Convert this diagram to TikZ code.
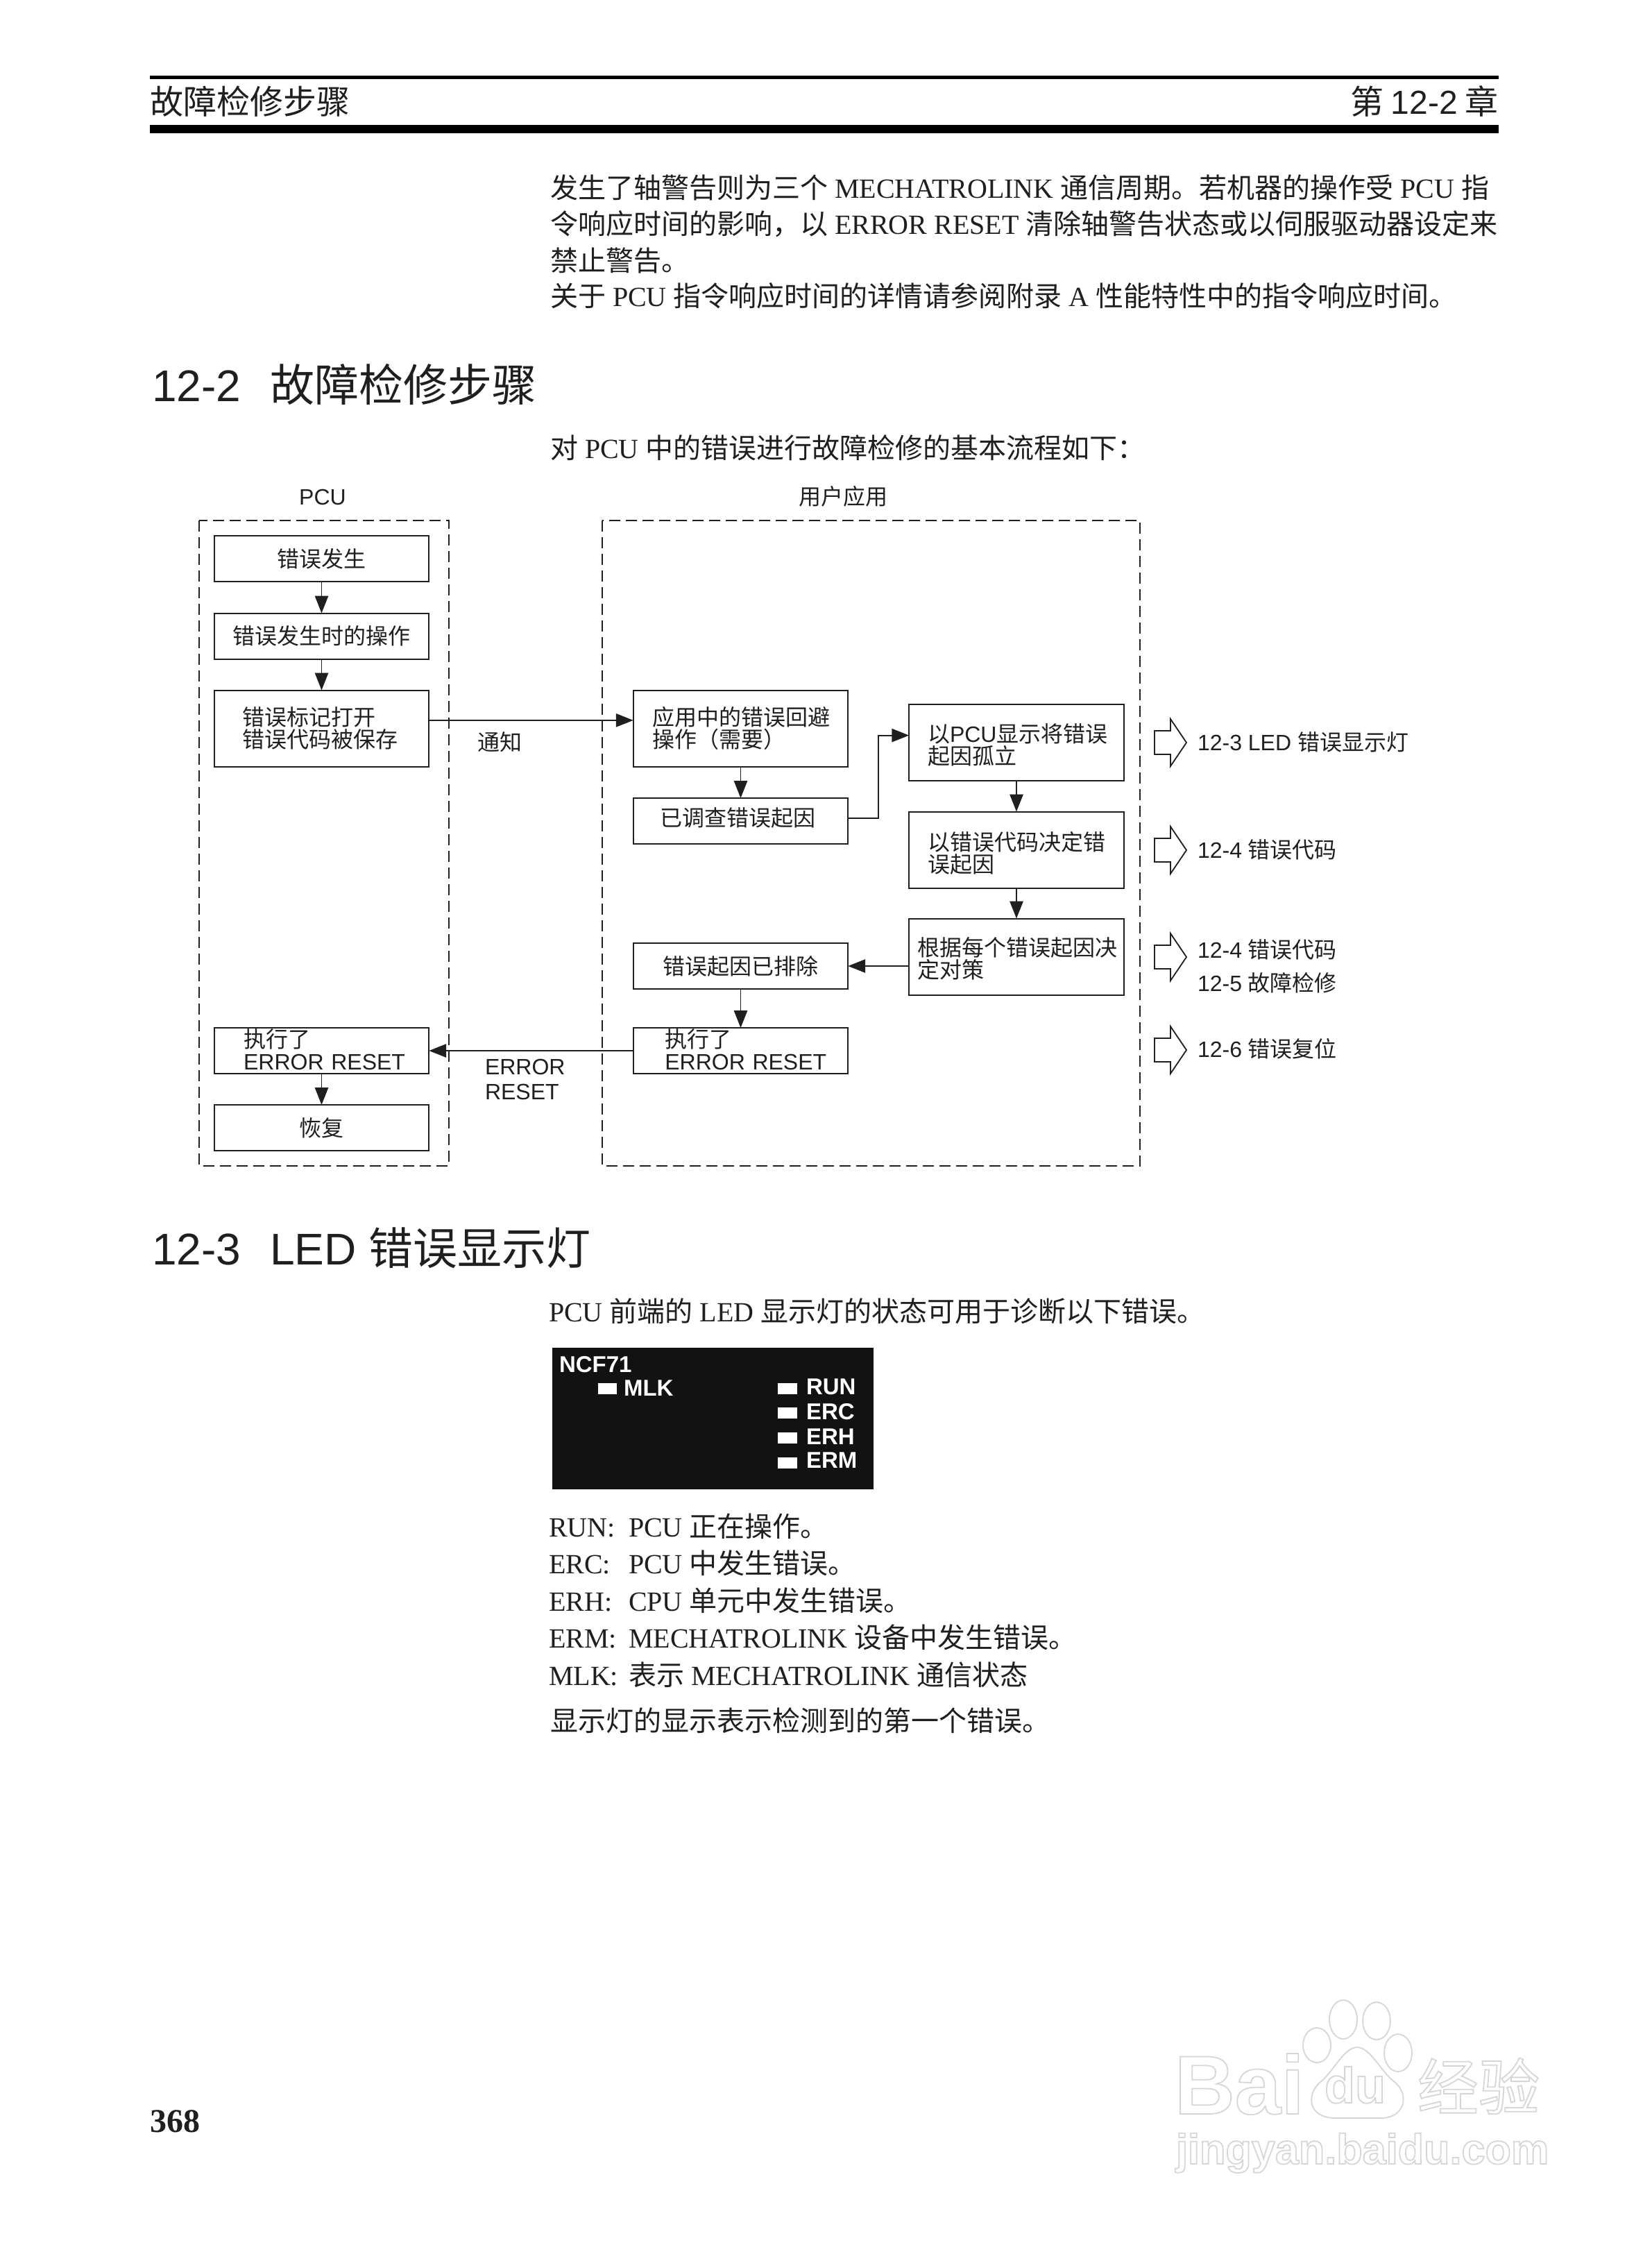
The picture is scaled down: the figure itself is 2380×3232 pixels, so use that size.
\documentclass[tikz,border=0pt]{standalone}
\usepackage{fontspec}
\setmainfont{Liberation Serif}
\setsansfont{Liberation Sans}
\newfontfamily\zhf{Noto Sans CJK SC}
\newcommand\Z[1]{{\zhf #1}}
\usetikzlibrary{arrows.meta}
\definecolor{ink}{gray}{0.12}
\definecolor{wm}{gray}{0.84}
\newcommand\Outl[1]{\special{pdf:code 1 Tr 0.45 w}#1\special{pdf:code 0 Tr 0.4 w}}
\AtBeginDocument{\lineskiplimit=-20pt\relax}
\tikzset{
  every node/.style={inner sep=0pt,outer sep=0pt,text=ink},
  bodytext/.style={anchor=base west,font=\fontsize{10}{10}\selectfont\rmfamily},
  sec/.style={anchor=base west,font=\fontsize{16}{16}\selectfont\sffamily},
  head/.style={font=\fontsize{12}{12}\selectfont\sffamily},
  lab/.style={anchor=base west,font=\fontsize{8}{8}\selectfont\sffamily},
  bx/.style={draw=ink,line width=0.5pt,fill=white,minimum width=77.4pt,
    font=\fontsize{8}{8}\selectfont\sffamily},
  lo/.style={minimum height=16.5pt},
  hi/.style={minimum height=27.5pt},
  inset/.code={\pgfmathsetmacro\tw{77.4-2*#1}\tikzset{align=left,text width=\tw pt,inner xsep=#1pt}},
  frame/.style={draw=ink,line width=0.45pt,dash pattern=on 4pt off 2pt},
  ar/.style={draw=ink,line width=0.45pt,-{Triangle[length=6.2pt,width=4.8pt]}},
  barrowpic/.pic={\draw[ink,line width=0.45pt,fill=white] (0,-17)--(23,-17)--(23,-34)--(46,0)--(23,34)--(23,17)--(0,17)--cycle;},
  led/.style={fill=white,draw=none,minimum width=6.8pt,minimum height=4pt},
  ledt/.style={anchor=base west,text=white,font=\fontsize{8.25}{8.25}\selectfont\sffamily\bfseries},
  wmline/.style={draw=wm,line width=0.45pt,fill=white},
  wmt/.style={anchor=base west,text=wm}
}
\begin{document}
\begin{tikzpicture}[x=0.25pt,y=-0.25pt]
\useasboundingbox[fill=white] (0,0) rectangle (2380,3232);

% page header
\fill[black] (216,109) rectangle (2160,114);
\fill[black] (216,180) rectangle (2160,192);
\node[head,anchor=base west] (hl) at (216,165) {\Z{故障检修步骤}};
\node[head,anchor=base east] (hr) at (2159,165) {\Z{第}\hspace{2.5pt}12-2\hspace{2.5pt}\Z{章}};

% body text
\node[bodytext] (t1) at (793,285) {\Z{发生了轴警告则为三个} MECHATROLINK \Z{通信周期。若机器的操作受} PCU \Z{指}};
\node[bodytext] (t2) at (793,338) {\Z{令响应时间的影响，以} ERROR RESET \Z{清除轴警告状态或以伺服驱动器设定来}};
\node[bodytext] (t3) at (793,390) {\Z{禁止警告。}};
\node[bodytext] (t4) at (793,441) {\Z{关于} PCU \Z{指令响应时间的详情请参阅附录} A \Z{性能特性中的指令响应时间。}};
\node[sec] (s1) at (219,578) {12-2\hspace{10.5pt}\Z{故障检修步骤}};
\node[bodytext] (t5) at (793,660) {\Z{对} PCU \Z{中的错误进行故障检修的基本流程如下：}};

% frames
\node[lab,anchor=base] (pcu) at (465,727) {PCU};
\node[lab,anchor=base] (app) at (1215,727) {\Z{用户应用}};
\draw[frame] (287,750) rectangle (647,1680);
\draw[frame] (868,750) rectangle (1643,1680);

% left column
\node[bx,lo] (b1) at (463.5,805) {\Z{错误发生}};
\node[bx,lo] (b2) at (463.5,916.5) {\Z{错误发生时的操作}};
\node[bx,hi,inset=10.2] (b3) at (463.5,1049.5) {\Z{错误标记打开}\\\Z{错误代码被保存}};
\node[bx,lo,inset=10.6] (b4) at (463.5,1514) {\Z{执行了}\\\mbox{ERROR RESET}\rule[-1pt]{0pt}{0pt}};
\node[bx,lo] (b5) at (463.5,1625) {\Z{恢复}};
% middle column
\node[bx,hi,inset=7] (a1) at (1067.5,1049.5) {\Z{应用中的错误回避}\\\Z{操作（需要）}};
\node[bx,lo] (a2) at (1067.5,1183) {\Z{已调查错误起因}\hspace{2pt}\rule[-3pt]{0pt}{0pt}};
\node[bx,lo] (a3) at (1067.5,1392) {\Z{错误起因已排除}};
\node[bx,lo,inset=11.4] (a4) at (1067.5,1514) {\Z{执行了}\\\mbox{ERROR RESET}\rule[-1pt]{0pt}{0pt}};
% right column
\node[bx,hi,inset=6.7] (c1) at (1465,1070) {\rule{0pt}{8.5pt}\Z{以}PCU\Z{显示将错误}\\\Z{起因孤立}};
\node[bx,hi,inset=6.7] (c2) at (1465,1224.5) {\rule{0pt}{9pt}\Z{以错误代码决定错}\\\Z{误起因}};
\node[bx,hi,inset=3] (c3) at (1465,1378.5) {\rule{0pt}{8pt}\Z{根据每个错误起因决}\\\Z{定对策}};

% connectors
\draw[ar] (b1.south) -- (b2.north);
\draw[ar] (b2.south) -- (b3.north);
\draw[ar] ([yshift=2.9pt]b3.east) -- ([yshift=2.9pt]a1.west);
\draw[ar] (a1.south) -- (a2.north);
\coordinate (bend) at (1266,1179);
\draw[ar] ([yshift=1pt]a2.east) -- (bend) |- ([yshift=2.6pt]c1.west);
\draw[ar] (c1.south) -- (c2.north);
\draw[ar] (c2.south) -- (c3.north);
\draw[ar] (c3.west |- a3.east) -- (a3.east);
\draw[ar] (a3.south) -- (a4.north);
\draw[ar] (a4.west) -- (b4.east);
\draw[ar] (b4.south) -- (b5.north);

% connector labels
\node[lab] (n1) at (688,1081) {\Z{通知}};
\node[lab] (n2) at (699,1548) {ERROR};
\node[lab] (n3) at (699,1584) {RESET};

% side arrows and references
\pic (p1) at (1664,1070) {barrowpic};
\pic (p2) at (1664,1225) {barrowpic};
\pic (p3) at (1664,1379) {barrowpic};
\pic (p4) at (1664,1513) {barrowpic};
\node[lab] (r1) at (1726,1081) {12-3 LED \Z{错误显示灯}};
\node[lab] (r2) at (1726,1236) {12-4 \Z{错误代码}};
\node[lab] (r3) at (1726,1380) {12-4 \Z{错误代码}};
\node[lab] (r4) at (1726,1428) {12-5 \Z{故障检修}};
\node[lab] (r5) at (1726,1523) {12-6 \Z{错误复位}};

% section 12-3
\node[sec] (s2) at (219,1822) {12-3\hspace{10.5pt}LED \Z{错误显示灯}};
\node[bodytext] (t6) at (791,1904) {PCU \Z{前端的} LED \Z{显示灯的状态可用于诊断以下错误。}};

% LED panel
\fill[black!93] (796,1942) rectangle (1259,2146);
\node[ledt] (l0) at (806,1977) {NCF71};
\node[led] (l1) at (875.5,2000.5) {};
\node[ledt] (l1t) at (899,2011) {MLK};
\node[led] (l2) at (1135,2000.5) {};
\node[ledt] (l2t) at (1162,2009) {RUN};
\node[led] (l3) at (1135,2036) {};
\node[ledt] (l3t) at (1162,2045) {ERC};
\node[led] (l4) at (1135,2072) {};
\node[ledt] (l4t) at (1162,2081) {ERH};
\node[led] (l5) at (1135,2107.5) {};
\node[ledt] (l5t) at (1162,2115) {ERM};

% legend
\node[bodytext] (u1a) at (791,2214) {RUN:};
\node[bodytext] (u1b) at (906,2214) {PCU \Z{正在操作。}};
\node[bodytext] (u2a) at (791,2267) {ERC:};
\node[bodytext] (u2b) at (906,2267) {PCU \Z{中发生错误。}};
\node[bodytext] (u3a) at (791,2321) {ERH:};
\node[bodytext] (u3b) at (906,2321) {CPU \Z{单元中发生错误。}};
\node[bodytext] (u4a) at (791,2374) {ERM:};
\node[bodytext] (u4b) at (906,2374) {MECHATROLINK \Z{设备中发生错误。}};
\node[bodytext] (u5a) at (791,2428) {MLK:};
\node[bodytext] (u5b) at (906,2428) {\Z{表示} MECHATROLINK \Z{通信状态}};
\node[bodytext] (t7) at (793,2494) {\Z{显示灯的显示表示检测到的第一个错误。}};

% page number
\node[anchor=base west,font=\fontsize{12}{12}\selectfont\rmfamily\bfseries] (pg) at (216,3072) {368};

% watermark
\path[wmline] (1898,2947) ellipse [x radius=20,y radius=25];
\path[wmline] (1936,2910) ellipse [x radius=20,y radius=28];
\path[wmline] (1984,2912) ellipse [x radius=20,y radius=27];
\path[wmline] (2015,2958) ellipse [x radius=20,y radius=27];
\path[wmline] (1956,2950) .. controls (1975,2950) and (1990,2985) .. (2010,3000)
  .. controls (2032,3018) and (2025,3052) .. (1990,3052)
  .. controls (1970,3052) and (1945,3052) .. (1925,3052)
  .. controls (1885,3052) and (1882,3018) .. (1903,3000)
  .. controls (1922,2985) and (1937,2950) .. (1956,2950) -- cycle;
\node[wmt,font=\fontsize{30}{30}\selectfont\sffamily\bfseries] (w1) at (1693,3046) {\color{wm}\Outl{Bai}};
\node[wmt,font=\fontsize{18}{18}\selectfont\sffamily\bfseries] (w2) at (1909,3030) {\color{wm}\Outl{du}};
\node[wmt,font=\fontsize{22}{22}\selectfont] (w3) at (2043,3040) {\color{wm}\Outl{\Z{经验}}};
\node[wmt,font=\fontsize{15.3}{16}\selectfont\sffamily\bfseries] (w4) at (1695,3118) {\color{wm}\Outl{jingyan.baidu.com}};
\end{tikzpicture}
\end{document}
